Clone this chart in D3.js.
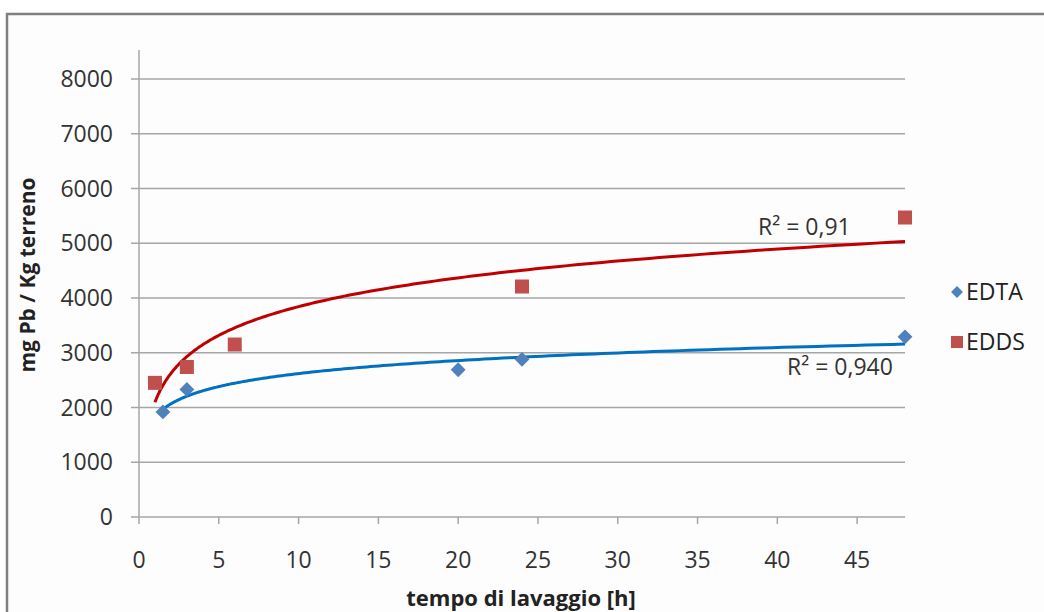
<!DOCTYPE html>
<html>
<head>
<meta charset="utf-8">
<script src="https://cdn.jsdelivr.net/npm/d3@7"></script>
<style>
  body { margin: 0; background: #fff; }
  svg { display: block; font-family: "Open Sans", sans-serif; }
</style>
</head>
<body>
<svg id="chart" width="1044" height="612"></svg>
<script>
(function() {

  // ---------------- data ----------------
  var edtaX = [1.5, 3, 20, 24, 48];
  var edtaY = [1920, 2330, 2690, 2880, 3290];
  var eddsX = [1, 3, 6, 24, 48];
  var eddsY = [2450, 2740, 3150, 4210, 5470];
  var xTicks = [0, 5, 10, 15, 20, 25, 30, 35, 40, 45];
  var yTicks = [0, 1000, 2000, 3000, 4000, 5000, 6000, 7000, 8000];
  var seriesNames = ["EDTA", "EDDS"];
  var r2Labels = ["R\u00b2 = 0,940", "R\u00b2 = 0,91"];

  var svg = d3.select("#chart");

  // outer frame (right / bottom edges are cut off in the original)
  svg.append("rect")
    .attr("x", 7).attr("y", 14)
    .attr("width", 1060).attr("height", 620)
    .attr("fill", "#fdfdfd")
    .attr("stroke", "#808080").attr("stroke-width", 2.5);

  var x = d3.scaleLinear().domain([0, 48]).range([139, 905]);
  var y = d3.scaleLinear().domain([0, 8000]).range([517, 79]);

  // gridlines
  svg.append("g").selectAll("line")
    .data(yTicks).enter().append("line")
    .attr("x1", x(0) - 8).attr("x2", x(48))
    .attr("y1", function(d){ return y(d); })
    .attr("y2", function(d){ return y(d); })
    .attr("stroke", "#a6a6a6").attr("stroke-width", 1.5);

  // y axis line
  svg.append("line")
    .attr("x1", x(0)).attr("x2", x(0))
    .attr("y1", 50).attr("y2", y(0))
    .attr("stroke", "#a6a6a6").attr("stroke-width", 1.5);

  // x tick marks
  svg.append("g").selectAll("line")
    .data(xTicks).enter().append("line")
    .attr("x1", function(d){ return x(d); })
    .attr("x2", function(d){ return x(d); })
    .attr("y1", y(0)).attr("y2", y(0) + 7)
    .attr("stroke", "#a6a6a6").attr("stroke-width", 1.5);

  // tick labels
  svg.append("g").selectAll("text")
    .data(yTicks).enter().append("text")
    .attr("x", 113)
    .attr("y", function(d){ return y(d); })
    .attr("dy", "0.35em")
    .attr("text-anchor", "end")
    .attr("font-size", 23).attr("fill", "#333")
    .text(function(d){ return d; });

  svg.append("g").selectAll("text")
    .data(xTicks).enter().append("text")
    .attr("x", function(d){ return x(d); })
    .attr("y", 568)
    .attr("text-anchor", "middle")
    .attr("font-size", 23).attr("fill", "#333")
    .text(function(d){ return d; });

  // axis titles
  svg.append("text")
    .attr("x", 521).attr("y", 606)
    .attr("text-anchor", "middle")
    .attr("font-size", 22).attr("font-weight", "bold").attr("fill", "#222")
    .text("tempo di lavaggio [h]");

  svg.append("text")
    .attr("transform", "translate(35,275) rotate(-90)")
    .attr("text-anchor", "middle")
    .attr("font-size", 21).attr("font-weight", "bold").attr("fill", "#222")
    .text("mg Pb / Kg terreno");

  // logarithmic trendlines, least squares on ln(x)
  function logFit(xs, ys) {
    var lx = xs.map(Math.log);
    var mx = d3.mean(lx), my = d3.mean(ys);
    var sxy = d3.sum(lx, function(v, i){ return (v - mx) * (ys[i] - my); });
    var sxx = d3.sum(lx, function(v){ return (v - mx) * (v - mx); });
    var a = sxy / sxx;
    return { a: a, b: my - a * mx };
  }

  function trend(xs, ys, color) {
    var f = logFit(xs, ys);
    var x0 = d3.min(xs), x1 = d3.max(xs);
    var pts = d3.range(0, 201).map(function(i){
      var t = x0 * Math.pow(x1 / x0, i / 200);
      return [t, f.a * Math.log(t) + f.b];
    });
    svg.append("path")
      .datum(pts)
      .attr("fill", "none")
      .attr("stroke", color).attr("stroke-width", 3)
      .attr("d", d3.line().x(function(d){ return x(d[0]); }).y(function(d){ return y(d[1]); }));
  }

  trend(eddsX, eddsY, "#c00000");
  trend(edtaX, edtaY, "#0070c0");

  // markers
  var diamond = d3.symbol().type(d3.symbolDiamond2).size(140);
  svg.append("g").selectAll("path")
    .data(edtaX).enter().append("path")
    .attr("transform", function(d, i){ return "translate(" + x(d) + "," + y(edtaY[i]) + ")"; })
    .attr("d", diamond)
    .attr("fill", "#4f81bd");

  svg.append("g").selectAll("rect")
    .data(eddsX).enter().append("rect")
    .attr("x", function(d){ return x(d) - 7; })
    .attr("y", function(d, i){ return y(eddsY[i]) - 7; })
    .attr("width", 14).attr("height", 14)
    .attr("fill", "#c0504d");

  // R² labels
  svg.append("text")
    .attr("x", 787).attr("y", 375)
    .attr("font-size", 23).attr("fill", "#333")
    .text(r2Labels[0]);
  svg.append("text")
    .attr("x", 758).attr("y", 235)
    .attr("font-size", 23).attr("fill", "#333")
    .text(r2Labels[1]);

  // legend
  var leg = svg.append("g");
  leg.append("path")
    .attr("transform", "translate(957,292)")
    .attr("d", d3.symbol().type(d3.symbolDiamond2).size(90))
    .attr("fill", "#4f81bd");
  leg.append("rect")
    .attr("x", 951).attr("y", 336).attr("width", 12).attr("height", 12)
    .attr("fill", "#c0504d");
  leg.selectAll("text")
    .data(seriesNames).enter().append("text")
    .attr("x", 966)
    .attr("y", function(d, i){ return 292 + i * 50; })
    .attr("dy", "0.35em")
    .attr("font-size", 23).attr("fill", "#222")
    .text(function(d){ return d; });

}());
</script>
</body>
</html>
